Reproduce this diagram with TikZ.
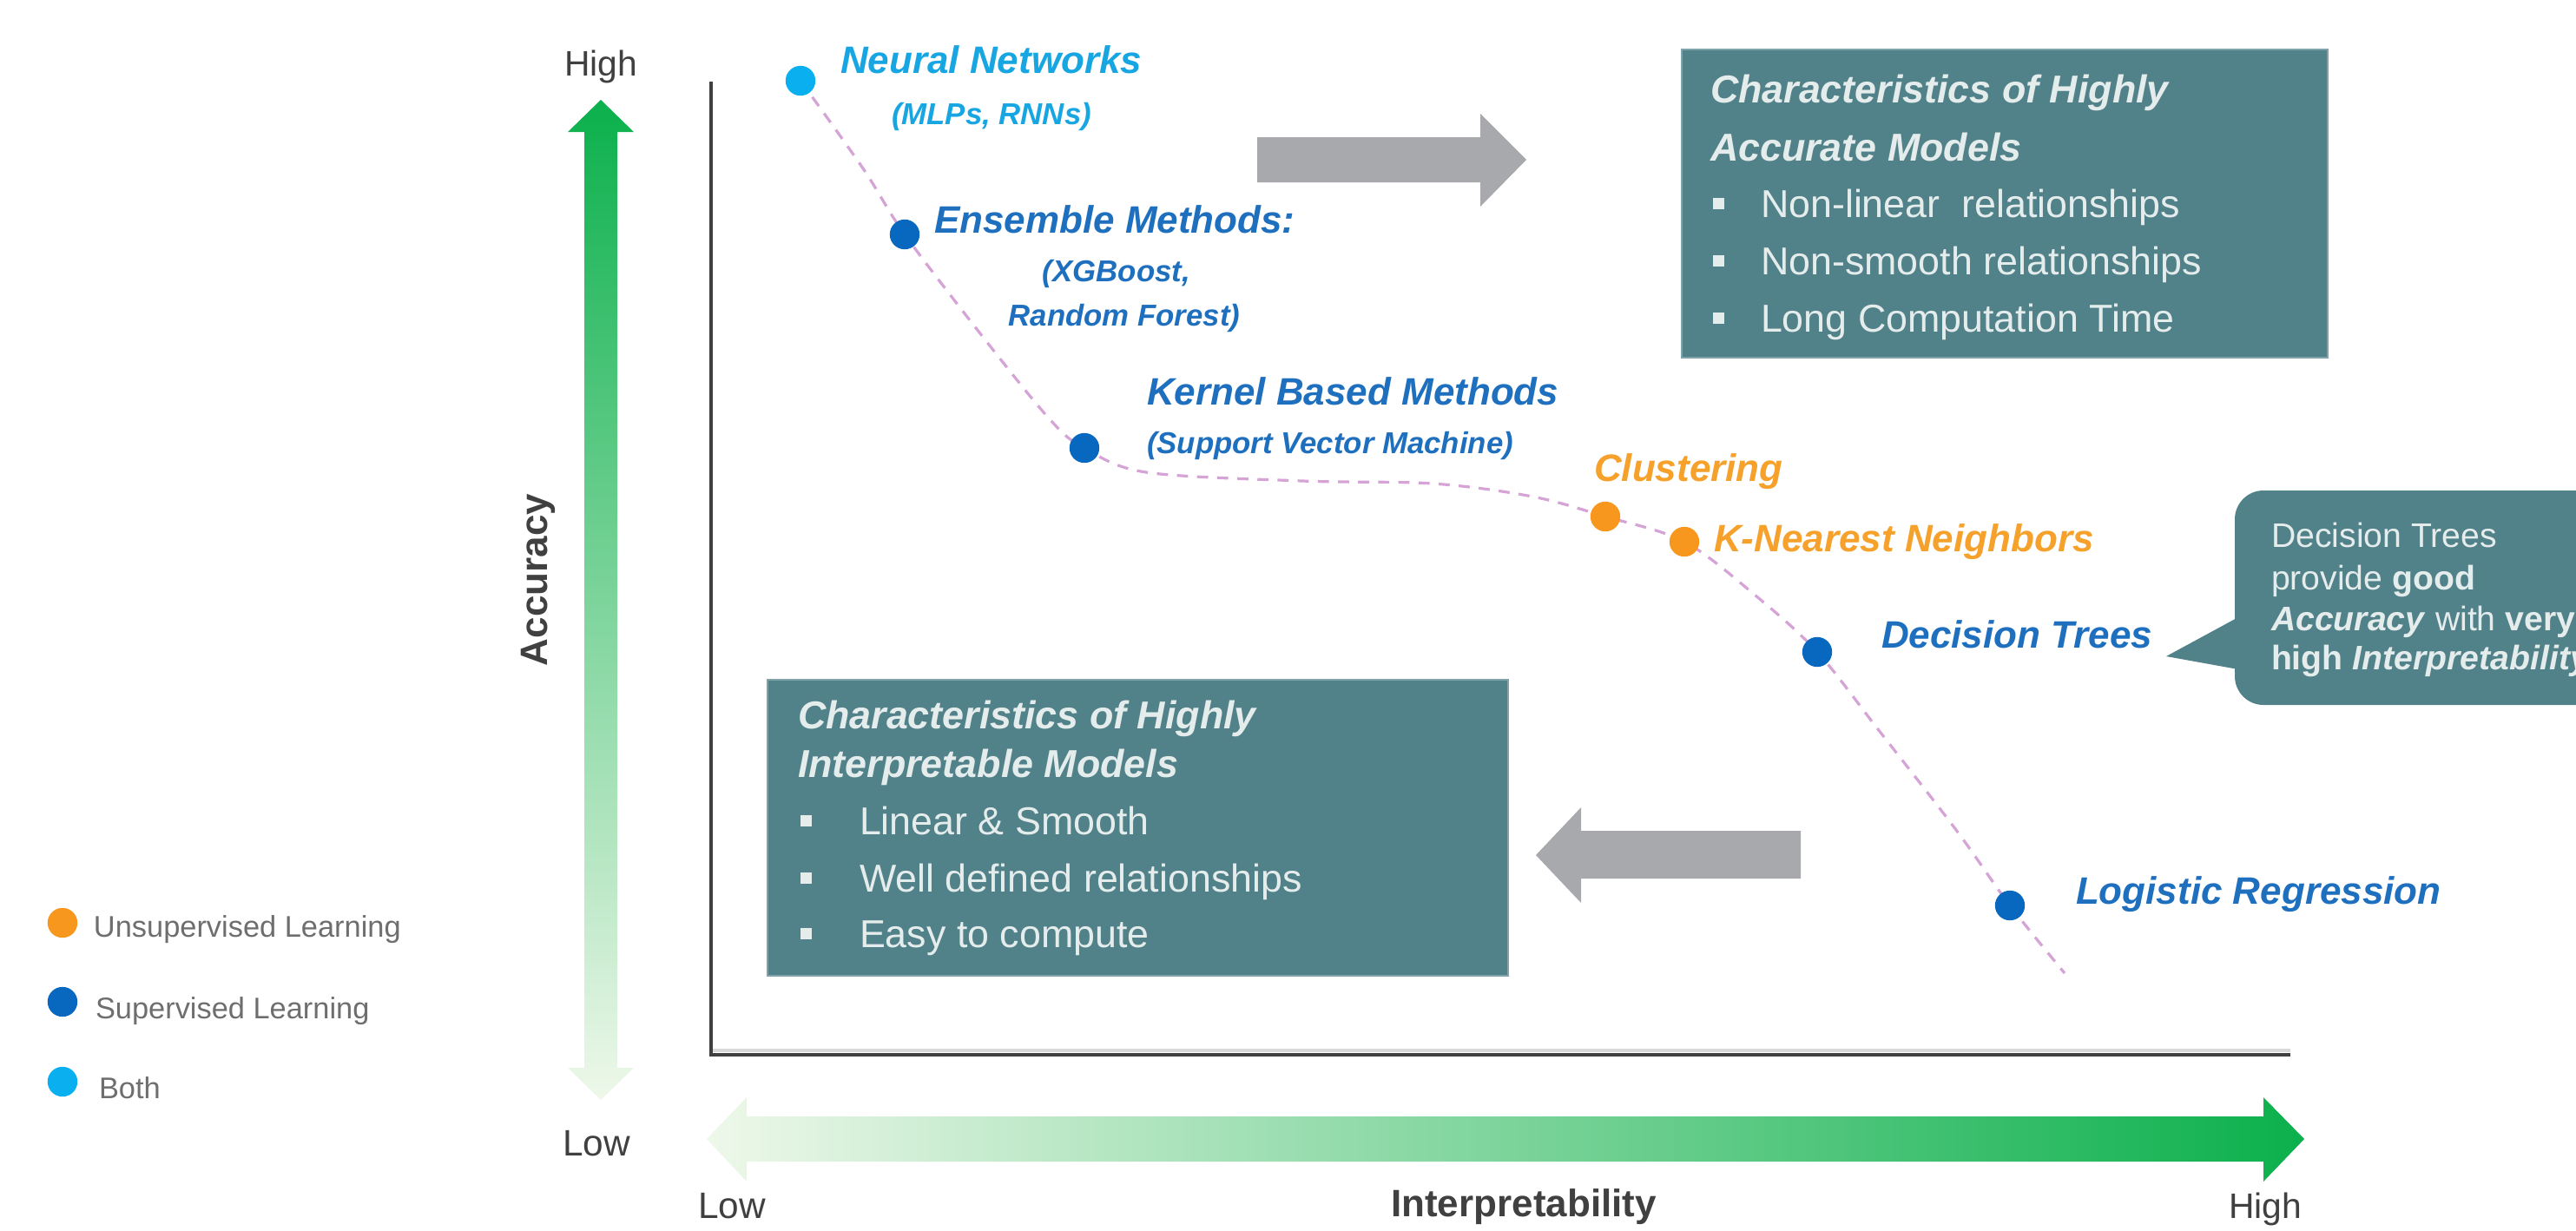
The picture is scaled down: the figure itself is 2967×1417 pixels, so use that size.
\documentclass[tikz,border=0pt]{standalone}
\usepackage{fontspec}
\setmainfont{Liberation Sans}
\definecolor{boxteal}{HTML}{518189}
\definecolor{boxedge}{HTML}{7FA3A8}
\definecolor{boxtext}{HTML}{E4ECEC}
\definecolor{lblblue}{HTML}{1F6FBF}
\definecolor{lbllight}{HTML}{17A6E2}
\definecolor{lblorange}{HTML}{F5A12B}
\definecolor{dotorange}{HTML}{F8971D}
\definecolor{dotblue}{HTML}{0868C0}
\definecolor{dotlight}{HTML}{0AAFEF}
\definecolor{axisgray}{HTML}{404040}
\definecolor{axisshadow}{HTML}{D9D9D9}
\definecolor{arrowgray}{HTML}{A7A9AC}
\definecolor{curvepink}{HTML}{D6A3D6}
\definecolor{greendark}{HTML}{0BB04C}
\definecolor{greenlight}{HTML}{EEF8EA}
\definecolor{legendgray}{HTML}{6E6E6E}
\newcommand{\bsq}{\raisebox{2.3pt}{\rule{3.2pt}{3.2pt}}}
\begin{document}
\begin{tikzpicture}[x=0.25pt,y=-0.25pt,
  every node/.style={inner sep=0pt, outer sep=0pt},
  lbl/.style={anchor=base west, font=\bfseries\itshape\fontsize{11}{13}\selectfont},
  sublbl/.style={anchor=base west, font=\bfseries\itshape\fontsize{8.7}{10}\selectfont},
  dot/.style={circle, minimum size=8.6pt},
  boxtitle/.style={anchor=base west, text=boxtext, font=\bfseries\itshape\fontsize{11.2}{13}\selectfont},
  boxline/.style={anchor=base west, text=boxtext, font=\fontsize{11.2}{13}\selectfont},
  callline/.style={anchor=base west, text=boxtext, font=\fontsize{9.8}{11}\selectfont},
  legtext/.style={anchor=base west, text=legendgray, font=\fontsize{8.6}{10}\selectfont},
  axlabel/.style={anchor=base, text=axisgray, font=\fontsize{10.2}{12}\selectfont},
  curve/.style={curvepink, line width=0.8pt, dash pattern=on 3.2pt off 2.6pt}
]
\useasboundingbox (0,0) rectangle (2967,1417);

% gradient axis arrows
\shade[top color=greendark, bottom color=greenlight]
  (692,115) -- (730,152) -- (711,152) -- (711,1230) -- (730,1230) -- (692,1267)
  -- (654,1230) -- (673,1230) -- (673,152) -- (654,152) -- cycle;
\shade[left color=greenlight, right color=greendark]
  (814,1312) -- (860,1264) -- (860,1286) -- (2607,1286) -- (2607,1264) -- (2654,1312)
  -- (2607,1361) -- (2607,1338) -- (860,1338) -- (860,1361) -- cycle;

\node[axlabel] (yhigh) at (692,87) {High};
\node[axlabel, font=\fontsize{10.6}{12}\selectfont] (ylow) at (687,1331) {Low};
\node[anchor=center, rotate=90, text=axisgray, font=\bfseries\fontsize{11}{13}\selectfont] (ylab) at (620,668) {Accuracy};
\node[axlabel, font=\fontsize{10.6}{12}\selectfont] (xlow) at (843,1403) {Low};
\node[axlabel, font=\bfseries\fontsize{11}{13}\selectfont] (xlab) at (1755,1401) {Interpretability};
\node[axlabel] (xhigh) at (2609,1403) {High};

% plot axes
\coordinate (ytop) at (819,94);
\coordinate (origin) at (819,1215);
\coordinate (xend) at (2638,1215);
\draw[axisshadow, line width=1pt] ([yshift=1.2pt]origin) -- ([yshift=1.2pt]xend);
\draw[axisgray, line width=1pt] (ytop) -- (origin) -- (xend);

% characteristic boxes
\fill[boxteal, draw=boxedge, line width=0.4pt] (1937,57) rectangle (2681,412);
\node[boxtitle] (acc1) at (1970,118) {Characteristics of Highly};
\node[boxtitle] (acc2) at (1970,185) {Accurate Models};
\node[boxline] (acc3) at (1973,250) {\makebox[13.75pt][l]{\bsq}Non-linear\ \ relationships};
\node[boxline] (acc4) at (1973,316) {\makebox[13.75pt][l]{\bsq}Non-smooth relationships};
\node[boxline] (acc5) at (1973,382) {\makebox[13.75pt][l]{\bsq}Long Computation Time};

\fill[boxteal, draw=boxedge, line width=0.4pt] (884,783) rectangle (1737,1124);
\node[boxtitle] (int1) at (919,839) {Characteristics of Highly};
\node[boxtitle] (int2) at (919,895) {Interpretable Models};
\node[boxline] (int3) at (922,961) {\makebox[17pt][l]{\bsq}Linear \& Smooth};
\node[boxline] (int4) at (922,1027) {\makebox[17pt][l]{\bsq}Well defined relationships};
\node[boxline] (int5) at (922,1091) {\makebox[17pt][l]{\bsq}Easy to compute};

% grey direction arrows
\fill[arrowgray] (1448,158) -- (1705,158) -- (1705,131) -- (1758,184) -- (1705,238) -- (1705,210) -- (1448,210) -- cycle;
\fill[arrowgray] (2074,957) -- (1821,957) -- (1821,930) -- (1769,985) -- (1821,1040) -- (1821,1012) -- (2074,1012) -- cycle;

% callout
\fill[boxteal, rounded corners=8.25pt] (2574,565) rectangle (3100,812);
\fill[boxteal] (2578,711) -- (2495,756) -- (2578,771) -- cycle;
\node[callline] (c1) at (2616,630) {Decision Trees};
\node[callline] (c2) at (2616,679) {provide \textbf{good}};
\node[callline] (c3) at (2616,726) {\textbf{\textit{Accuracy}} with \textbf{very}};
\node[callline] (c4) at (2616,771) {\textbf{high \textit{Interpretability}}};

% trade-off curve
\coordinate (pNN) at (922,93);
\coordinate (pEns) at (1042,270);
\coordinate (pKer) at (1249,516);
\coordinate (pClu) at (1849,595);
\coordinate (pKNN) at (1940,624);
\coordinate (pDT) at (2093,751);
\coordinate (pLR) at (2315,1043);
\coordinate (cend) at (2378,1121);
\draw[curve] plot[smooth, tension=0.55] coordinates {
  (pNN) (994,194) (pEns) (1132,388) (1210,484) (pKer) (1320,544) (1500,554)
  (1650,557) (1765,572) (pClu) (pKNN) (2022,686) (pDT) (2163,840) (2253,956)
  (pLR) (cend)};

\node[dot, fill=dotlight] (dNN) at (pNN) {};
\node[dot, fill=dotblue] (dEns) at (pEns) {};
\node[dot, fill=dotblue] (dKer) at (pKer) {};
\node[dot, fill=dotorange] (dClu) at (pClu) {};
\node[dot, fill=dotorange] (dKNN) at (pKNN) {};
\node[dot, fill=dotblue] (dDT) at (pDT) {};
\node[dot, fill=dotblue] (dLR) at (pLR) {};

% model labels
\node[lbl, text=lbllight] (lNN) at (968,84) {Neural Networks};
\node[sublbl, text=lbllight] (sNN) at (1027,143) {(MLPs, RNNs)};
\node[lbl, text=lblblue] (lEns) at (1076,268) {Ensemble Methods:};
\node[sublbl, text=lblblue, anchor=base] (sEns1) at (1286,324) {(XGBoost,};
\node[sublbl, text=lblblue, anchor=base] (sEns2) at (1295,375) {Random Forest)};
\node[lbl, text=lblblue] (lKer) at (1321,466) {Kernel Based Methods};
\node[sublbl, text=lblblue] (sKer) at (1321,522) {(Support Vector Machine)};
\node[lbl, text=lblorange] (lClu) at (1836,554) {Clustering};
\node[lbl, text=lblorange] (lKNN) at (1974,635) {K-Nearest Neighbors};
\node[lbl, text=lblblue] (lDT) at (2167,746) {Decision Trees};
\node[lbl, text=lblblue] (lLR) at (2391,1041) {Logistic Regression};

% legend
\node[dot, fill=dotorange] (gU) at (72,1063) {};
\node[dot, fill=dotblue] (gS) at (72,1154) {};
\node[dot, fill=dotlight] (gB) at (72,1246) {};
\node[legtext] (tU) at (108,1079) {Unsupervised Learning};
\node[legtext] (tS) at (110,1173) {Supervised Learning};
\node[legtext] (tB) at (114,1265) {Both};
\end{tikzpicture}
\end{document}
